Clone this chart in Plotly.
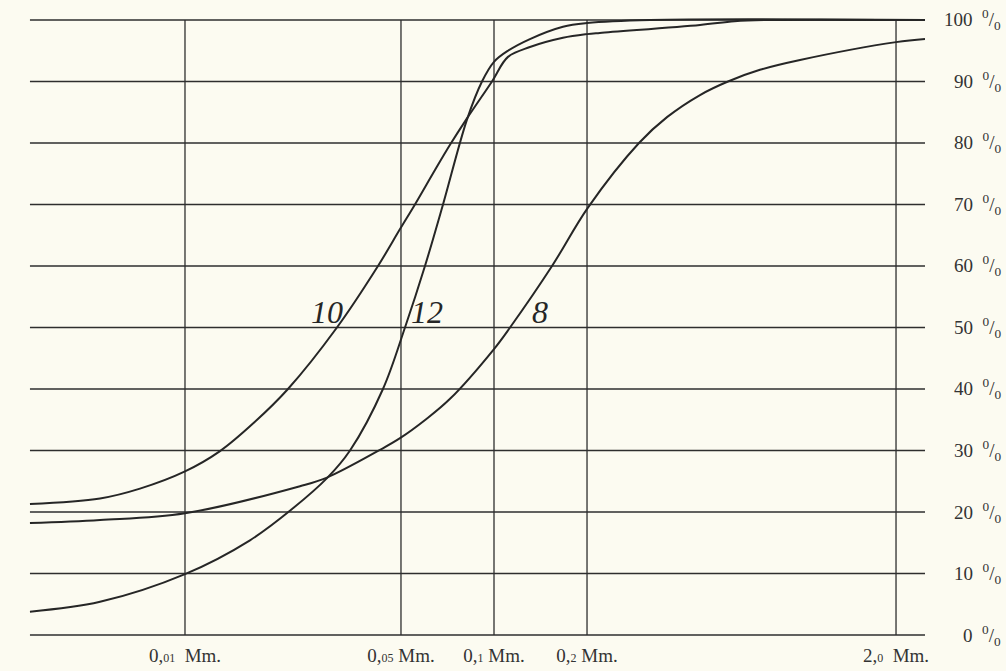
import math
import plotly.graph_objects as go

# ---- data (grain diameter in mm, cumulative percent) ----
d_curve10 = [0.00315, 0.00531, 0.00715, 0.0100, 0.01298, 0.01670, 0.02154, 0.03103, 0.04213,
             0.04965, 0.05549, 0.06442, 0.07206, 0.08176, 0.09852, 0.1110, 0.1307,
             0.1672, 0.2000, 0.2200, 0.4642, 0.6000, 0.7500, 2.482]
p_curve10 = [21.3, 22.2, 23.8, 26.6, 29.9, 34.5, 40.0, 50.0, 60.0,
             66.0, 70.0, 75.6, 79.7, 84.0, 90.0, 94.0, 95.6,
             97.1, 97.7, 97.9, 99.2, 99.8, 100.0, 100.0]

d_curve12 = [0.00315, 0.00531, 0.0100, 0.01623, 0.02236, 0.02881, 0.03420, 0.04372, 0.05152,
             0.05979, 0.06839, 0.08176, 0.09145, 0.1000, 0.1110, 0.1307, 0.1672, 0.2000,
             0.3198, 2.482]
p_curve12 = [3.8, 5.4, 9.9, 15.4, 20.6, 25.5, 30.0, 40.0, 50.0,
             60.0, 70.0, 83.8, 90.0, 93.2, 95.0, 96.9, 98.9, 99.5,
             100.0, 100.0]

d_curve8 = [0.00315, 0.00531, 0.0100, 0.02356, 0.02881, 0.04276, 0.04965, 0.0600, 0.07206,
            0.1000, 0.1127, 0.1541, 0.2014, 0.2946, 0.3630, 0.4642, 0.5718, 0.7257,
            0.978, 2.0, 2.482]
p_curve8 = [18.2, 18.7, 19.8, 24.2, 25.6, 30.1, 32.0, 35.0, 38.4,
            46.5, 50.0, 60.0, 69.5, 80.0, 84.2, 87.8, 90.0, 91.9,
            93.5, 96.4, 96.9]

curve_names = ["10", "12", "8"]
label_d = [0.0288, 0.0607, 0.141]
label_p = [52.5, 52.5, 52.5]

x_grid = [0.01, 0.05, 0.1, 0.2, 2.0]
x_ticktext = ["0,<span style='font-size:12px'>01</span>  Mm.",
              "0,<span style='font-size:12px'>05</span> Mm.",
              "0,<span style='font-size:12px'>1</span> Mm.",
              "0,<span style='font-size:12px'>2</span> Mm.",
              "2,<span style='font-size:12px'>0</span>  Mm."]
y_grid = [0, 10, 20, 30, 40, 50, 60, 70, 80, 90, 100]
y_ticktext = [f"{v}  <sup>0</sup>/<sub>0</sub>" for v in y_grid]
x_extent = [0.00315, 2.482]

INK = "#262626"
TXT = "#333333"
BG = "#fcfbf1"
FONT = "Liberation Serif"

fig = go.Figure()

# grid lines
gx, gy = [], []
for v in x_grid:
    gx += [v, v, None]
    gy += [0, 100, None]
for v in y_grid:
    gx += [x_extent[0], x_extent[1], None]
    gy += [v, v, None]
fig.add_trace(go.Scatter(x=gx, y=gy, mode="lines", line=dict(color="#2e2e2e", width=1.3),
                         hoverinfo="skip", showlegend=False))

for d, p in [(d_curve10, p_curve10), (d_curve12, p_curve12), (d_curve8, p_curve8)]:
    fig.add_trace(go.Scatter(x=d, y=p, mode="lines",
                             line=dict(color=INK, width=2, shape="spline", smoothing=1.0),
                             showlegend=False))

annotations = []
for name, d, p in zip(curve_names, label_d, label_p):
    annotations.append(dict(x=math.log10(d), y=p, xref="x", yref="y", text=f"<i>{name}</i>",
                            showarrow=False, font=dict(family=FONT, size=32, color=INK)))
for v, t in zip(y_grid, y_ticktext):
    annotations.append(dict(x=1.0768, y=v, xref="paper", yref="y", text=t, xanchor="right",
                            showarrow=False, font=dict(family=FONT, size=19, color=TXT)))

fig.update_layout(
    width=1006, height=671,
    margin=dict(l=21, r=73, t=11, b=27, autoexpand=False),
    paper_bgcolor=BG, plot_bgcolor=BG,
    xaxis=dict(type="log", range=[-2.5307, 0.4207], showgrid=False, zeroline=False,
               showline=False, ticks="", tickvals=x_grid, ticktext=x_ticktext,
               ticklabelstandoff=-2, automargin=False,
               tickfont=dict(family=FONT, size=19, color=TXT)),
    yaxis=dict(range=[-1.463, 101.46], showgrid=False, zeroline=False, showline=False,
               showticklabels=False, ticks="", automargin=False),
    annotations=annotations,
)

fig.write_html("out.html")
